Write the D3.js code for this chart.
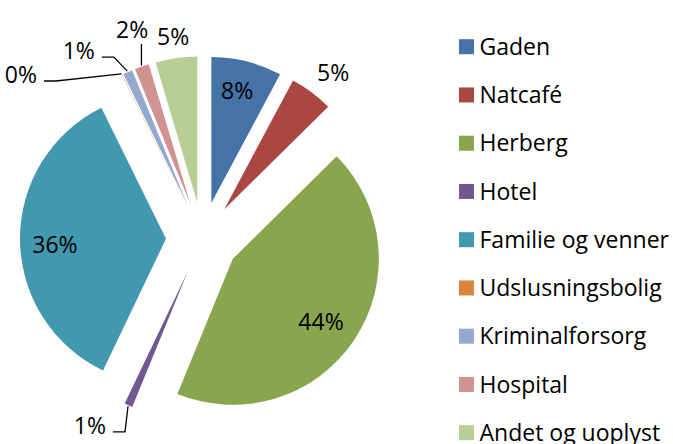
<!DOCTYPE html>
<html>
<head>
<meta charset="utf-8">
<script src="https://cdn.jsdelivr.net/npm/d3@7"></script>
<style>
  body { margin: 0; background: #fff; }
  text { font-family: "Open Sans", sans-serif; font-size: 23px; fill: #000; }
</style>
</head>
<body>
<script>
var width = 673, height = 444;

// data
var categories = ["Gaden", "Natcafé", "Herberg", "Hotel", "Familie og venner",
                  "Udslusningsbolig", "Kriminalforsorg", "Hospital", "Andet og uoplyst"];
var shares = [7.8, 4.8, 43.6, 0.9, 35.6, 0.05, 1.05, 1.6, 4.6];
var colors = ["#4572A7", "#AA4643", "#89A54E", "#71588F", "#4198AF",
              "#DB843D", "#93A9CF", "#D19392", "#B9CD96"];

// pie geometry
var cx = 202.5, cy = 238.5, radius = 146, explode = 36.5;

// label placement: angle (deg, clockwise from top) and distance as share of radius,
// measured from the exploded slice's own centre
var labelLayout = [
  {a: 12.9, k: 0.79},
  {a: 38.6, k: 1.194},
  {a: 125.6, k: 0.743},
  {a: 212.4, k: 1.25, leader: "h"},
  {a: 266.8, k: 0.762},
  {a: 308.3, k: 1.445, leader: "h"},
  {a: 324.8, k: 1.292, leader: "h"},
  {a: 341.5, k: 1.258, leader: "v"},
  {a: 351.7, k: 1.145}
];

function polar(angle, r) {
  return [r * Math.sin(angle), -r * Math.cos(angle)];
}
var rad = Math.PI / 180;

var svg = d3.select("body")
            .append("svg")
            .attr("width", width)
            .attr("height", height);

var pie = d3.pie().sort(null).value(function(d) { return d; });
var arcs = pie(shares);
var arc = d3.arc().innerRadius(0).outerRadius(radius);

var g = svg.append("g")
           .attr("transform", "translate(" + cx + "," + cy + ")");

// offset of each exploded slice
arcs.forEach(function(d) {
  d.mid = (d.startAngle + d.endAngle) / 2;
  d.off = polar(d.mid, explode);
});

//Slices
g.selectAll("path.slice")
  .data(arcs)
  .enter()
  .append("path")
  .attr("class", "slice")
  .attr("transform", function(d) { return "translate(" + d.off[0] + "," + d.off[1] + ")"; })
  .attr("d", arc)
  .attr("fill", function(d, i) { return colors[i]; });

//Data labels
var labels = g.selectAll("text.lbl")
  .data(arcs)
  .enter()
  .append("text")
  .attr("class", "lbl")
  .attr("text-anchor", "middle")
  .attr("dy", "0.36em")
  .attr("x", function(d, i) { return d.off[0] + polar(labelLayout[i].a * rad, labelLayout[i].k * radius)[0]; })
  .attr("y", function(d, i) { return d.off[1] + polar(labelLayout[i].a * rad, labelLayout[i].k * radius)[1]; })
  .text(function(d) { return Math.round(d.value) + "%"; });

//Leader lines
var line = d3.line();
labels.each(function(d, i) {
  var type = labelLayout[i].leader;
  if (!type) return;
  var box = this.getBBox();
  var ly = +d3.select(this).attr("y");
  var p = polar(d.mid, radius + 1);
  var start = [d.off[0] + p[0], d.off[1] + p[1]];
  var pts;
  if (type === "h") {
    var end = [box.x + box.width + 7, ly + 6];
    pts = [start, [end[0] + 12, end[1]], end];
  } else {
    pts = [start, [start[0], ly + 14]];
  }
  g.append("path")
    .attr("d", line(pts))
    .attr("fill", "none")
    .attr("stroke", "#000")
    .attr("stroke-width", 1.3);
});

//Legend
var legendY = d3.scalePoint()
                .domain(categories)
                .range([46.7, 432.7]);

var legend = svg.append("g")
  .selectAll("g")
  .data(categories)
  .enter()
  .append("g")
  .attr("transform", function(d) { return "translate(459," + legendY(d) + ")"; });

legend.append("rect")
  .attr("x", 0)
  .attr("y", -7.5)
  .attr("width", 15)
  .attr("height", 15)
  .attr("fill", function(d, i) { return colors[i]; });

legend.append("text")
  .attr("x", 20.5)
  .attr("dy", "0.36em")
  .text(function(d) { return d; });
</script>
</body>
</html>
